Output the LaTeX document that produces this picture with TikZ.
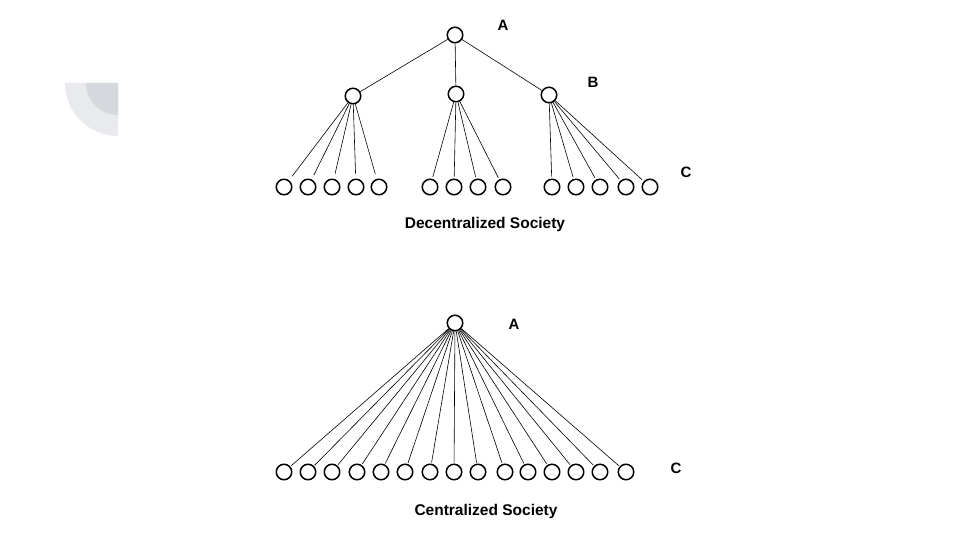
\documentclass[tikz,border=0pt]{standalone}
\usepackage{fontspec}
\setmainfont{Liberation Sans}
\definecolor{decolight}{HTML}{E9EAED}
\definecolor{decodark}{HTML}{D5D8DD}
\begin{document}
\begin{tikzpicture}[x=1pt,y=-1pt,
  person/.style={circle,draw=black,line width=1.5pt,minimum size=15.5pt,inner sep=0pt},
  tie/.style={draw=black,line width=0.6pt,shorten >=2pt},
  lvl/.style={font=\fontsize{15}{15}\selectfont\bfseries},
  captext/.style={font=\fontsize{15.5}{16}\selectfont\bfseries}]
\useasboundingbox (0,0) rectangle (960,540);
% decoration
\fill[decolight] (118,83) -- (65,83) arc[start angle=180,end angle=90,radius=53] -- cycle;
\fill[decodark] (118,83) -- (86,83) arc[start angle=180,end angle=90,radius=32] -- cycle;
% top tree
\node[person] (a) at (455,35) {};
\node[person] (b1) at (353,96) {};
\node[person] (b2) at (456,94) {};
\node[person] (b3) at (549,95) {};
\foreach \x [count=\i] in {284,308,332,356,379} \node[person] (l\i) at (\x,187) {};
\foreach \x [count=\i] in {430,454,478,503} \node[person] (m\i) at (\x,187) {};
\foreach \x [count=\i] in {552,576,600,626,650} \node[person] (r\i) at (\x,187) {};
\draw[tie,shorten >=0pt] (a) -- (b1);
\draw[tie,shorten >=0pt] (a) -- (b2);
\draw[tie,shorten >=0pt] (a) -- (b3);
\foreach \i in {1,...,5} \draw[tie,shorten >=5pt] (b1) -- (l\i);
\foreach \i in {1,...,4} \draw[tie] (b2) -- (m\i);
\foreach \i in {1,...,5} \draw[tie] (b3) -- (r\i);
\node[lvl] (la) at (503,25) {A};
\node[lvl] (lb) at (593,82) {B};
\node[lvl] (lc) at (686,172) {C};
\node[captext] (t1) at (485,224) {Decentralized Society};
% bottom tree
\node[person] (ca) at (455,323) {};
\foreach \x [count=\i] in {284,308,332,357,381,405,430,454,478,505,528,552,576,600,626}
  \node[person] (c\i) at (\x,472) {};
\foreach \i in {1,...,15} \draw[tie,shorten >=1pt] (ca) -- (c\i);
\node[lvl] (ka) at (514,324) {A};
\node[lvl] (kc) at (676,468) {C};
\node[captext] (t2) at (486,511) {Centralized Society};
\end{tikzpicture}
\end{document}
